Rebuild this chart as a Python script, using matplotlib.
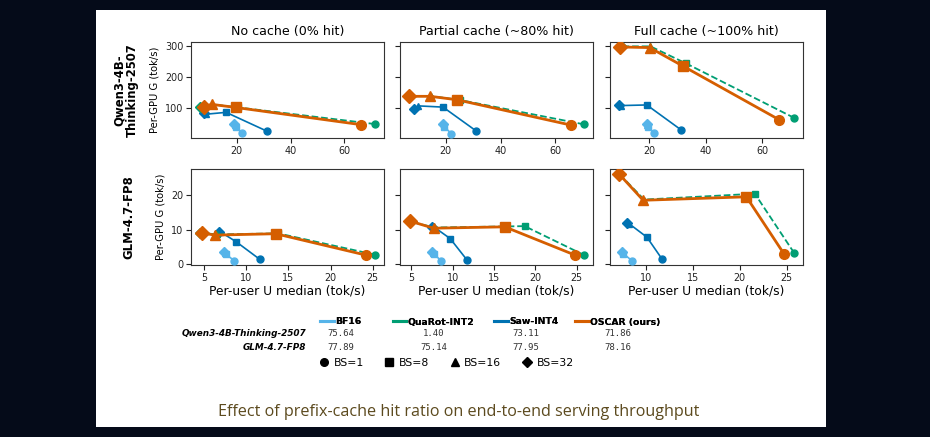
import matplotlib
matplotlib.use("Agg")
import matplotlib.pyplot as plt
from matplotlib.lines import Line2D
from matplotlib.patches import Rectangle

# ---------------- data ----------------
methods = ["BF16", "QuaRot-INT2", "Saw-INT4", "OSCAR (ours)"]
colors = ["#56B4E9", "#009E73", "#0072B2", "#D55E00"]
batch_sizes = ["BS=1", "BS=8", "BS=16", "BS=32"]
markers = ["o", "s", "^", "D"]
cache_titles = ["No cache (0% hit)", "Partial cache (~80% hit)", "Full cache (~100% hit)"]
model_names = ["Qwen3-4B-\nThinking-2507", "GLM-4.7-FP8"]
model_table_names = ["Qwen3-4B-Thinking-2507", "GLM-4.7-FP8"]
acc_qwen = ["75.64", "1.40", "73.11", "71.86"]
acc_glm = ["77.89", "75.14", "77.95", "78.16"]

# per-user U (x) and per-GPU G (y), points ordered BS=1, 8, 16, 32
# Qwen3-4B-Thinking-2507
q_nc_x = {"BF16": [21.8, 19.6, 19.3, 19.1], "QuaRot-INT2": [71.5, 20.5, 10.8, 6.2],
          "Saw-INT4": [31.2, 16.0, 8.5, 7.6], "OSCAR (ours)": [66.3, 19.5, 10.6, 7.6]}
q_nc_y = {"BF16": [19, 40, 45, 47], "QuaRot-INT2": [48, 102, 112, 102],
          "Saw-INT4": [25, 86, 80, 84], "OSCAR (ours)": [46, 102, 112, 104]}
q_pc_x = {"BF16": [22.0, 19.4, 19.2, 19.1], "QuaRot-INT2": [70.5, 25.2, 14.5, 6.5],
          "Saw-INT4": [31.2, 19.0, 10.0, 8.5], "OSCAR (ours)": [65.5, 24.0, 14.3, 6.7]}
q_pc_y = {"BF16": [17, 40, 46, 49], "QuaRot-INT2": [47, 126, 139, 139],
          "Saw-INT4": [25, 103, 107, 97], "OSCAR (ours)": [45, 127, 138, 138]}
q_fc_x = {"BF16": [21.8, 19.6, 19.4, 19.3], "QuaRot-INT2": [71.3, 33.0, 20.5, 10.0],
          "Saw-INT4": [31.2, 19.2, 10.0, 9.3], "OSCAR (ours)": [66.0, 32.0, 20.2, 9.9]}
q_fc_y = {"BF16": [18, 40, 46, 48], "QuaRot-INT2": [68, 245, 300, 300],
          "Saw-INT4": [30, 110, 108, 111], "OSCAR (ours)": [62, 236, 296, 298]}
# GLM-4.7-FP8
g_nc_x = {"BF16": [8.6, 7.6, 7.5, 7.4], "QuaRot-INT2": [25.3, 13.8, 6.5, 4.5],
          "Saw-INT4": [11.6, 8.8, 6.9, 6.8], "OSCAR (ours)": [24.2, 13.5, 6.3, 4.8]}
g_nc_y = {"BF16": [1.0, 2.8, 3.2, 3.4], "QuaRot-INT2": [2.7, 8.9, 8.6, 9.1],
          "Saw-INT4": [1.4, 6.5, 9.4, 9.2], "OSCAR (ours)": [2.6, 8.8, 8.4, 9.0]}
g_pc_x = {"BF16": [8.6, 7.7, 7.6, 7.5], "QuaRot-INT2": [25.9, 18.7, 7.8, 4.7],
          "Saw-INT4": [11.7, 9.7, 7.6, 7.5], "OSCAR (ours)": [24.8, 16.3, 7.7, 4.8]}
g_pc_y = {"BF16": [1.0, 3.0, 3.3, 3.5], "QuaRot-INT2": [2.6, 11.0, 10.6, 12.4],
          "Saw-INT4": [1.3, 7.4, 11.0, 10.8], "OSCAR (ours)": [2.6, 10.8, 10.4, 12.5]}
g_fc_x = {"BF16": [8.5, 7.6, 7.5, 7.4], "QuaRot-INT2": [25.8, 21.6, 9.8, 7.1],
          "Saw-INT4": [11.7, 10.1, 8.2, 8.0], "OSCAR (ours)": [24.7, 20.7, 9.7, 7.1]}
g_fc_y = {"BF16": [1.0, 3.0, 3.3, 3.5], "QuaRot-INT2": [3.2, 20.4, 18.7, 26.3],
          "Saw-INT4": [1.5, 7.8, 11.7, 12.0], "OSCAR (ours)": [3.0, 19.5, 18.5, 26.2]}

panels = [[(q_nc_x, q_nc_y), (q_pc_x, q_pc_y), (q_fc_x, q_fc_y)],
          [(g_nc_x, g_nc_y), (g_pc_x, g_pc_y), (g_fc_x, g_fc_y)]]

# ---------------- figure ----------------
W, H = 930, 437
fig = plt.figure(figsize=(W / 100, H / 100), dpi=100)
fig.patch.set_facecolor("#050B19")
fig.patches.append(Rectangle((96 / W, 1 - 427 / H), 730 / W, 417 / H,
                             transform=fig.transFigure, facecolor="white",
                             edgecolor="none", zorder=-10))

def fx(px):
    return px / W

def fy(py):
    return 1 - py / H

col_left = [191, 400, 610]
col_w = 193
row_top = [42, 169]
row_h = 96

styles = {
    "BF16": dict(lw=1.2, ls="-", ms=5, z=3),
    "QuaRot-INT2": dict(lw=1.3, ls="--", ms=5, z=4),
    "Saw-INT4": dict(lw=1.2, ls="-", ms=5, z=3),
    "OSCAR (ours)": dict(lw=2.0, ls="-", ms=7, z=5),
}

axes = [[None] * 3 for _ in range(2)]
for r in range(2):
    for c in range(3):
        share = axes[r][0] if c > 0 else None
        ax = fig.add_axes([fx(col_left[c]), fy(row_top[r] + row_h), col_w / W, row_h / H],
                          sharey=share)
        axes[r][c] = ax
        xs, ys = panels[r][c]
        for m, col in zip(methods, colors):
            st = styles[m]
            ax.plot(xs[m], ys[m], color=col, lw=st["lw"], ls=st["ls"], zorder=st["z"])
            for xi, yi, mk in zip(xs[m], ys[m], markers):
                ax.plot([xi], [yi], marker=mk, color=col, ms=st["ms"], ls="none",
                        zorder=st["z"])
        ax.tick_params(labelsize=6.9, length=3.5, width=0.8, pad=2, colors="#222222")
        for s in ax.spines.values():
            s.set_linewidth(0.8)
            s.set_color("#333333")
        if c > 0:
            plt.setp(ax.get_yticklabels(), visible=False)
        if r == 0:
            ax.set_title(cache_titles[c], fontsize=9.1, pad=5)
            ax.set_xticks([20, 40, 60])
            ax.set_yticks([100, 200, 300])
        else:
            ax.set_xticks([5, 10, 15, 20, 25] if c < 2 else [10, 15, 20, 25])
            ax.set_yticks([0, 10, 20])
            ax.set_xlabel("Per-user U median (tok/s)", fontsize=8.8, labelpad=1)
        if c == 0:
            ax.set_ylabel("Per-GPU G (tok/s)", fontsize=7.2, labelpad=4)

# row labels
fig.text(fx(126), fy(90), model_names[0], rotation=90, ha="center", va="center",
         fontsize=8.4, fontweight="bold", linespacing=1.0)
fig.text(fx(129), fy(217), model_names[1], rotation=90, ha="center", va="center",
         fontsize=8.4, fontweight="bold")

# method legend (one entry per column, centred)
col_centers = [341, 433.5, 526, 617.5]
for m, col, cx in zip(methods, colors, col_centers):
    h = Line2D([], [], color=col, lw=2.2)
    lg = fig.legend([h], [m], loc="center", bbox_to_anchor=(fx(cx), fy(322)),
                    frameon=False, handlelength=1.5, handletextpad=0.15,
                    borderpad=0, borderaxespad=0, prop=dict(size=6.7, weight="bold"))
    fig.add_artist(lg)

# accuracy table
for ri, (name, accs) in enumerate([(model_table_names[0], acc_qwen),
                                   (model_table_names[1], acc_glm)]):
    yy = fy(334 + ri * 13)
    fig.text(fx(306), yy, name, ha="right", va="center", fontsize=6.4,
             fontweight="bold", fontstyle="italic")
    for cx, a in zip(col_centers, accs):
        fig.text(fx(cx), yy, a, ha="center", va="center", fontsize=6.5,
                 family="DejaVu Sans Mono", color="#333333")

# batch-size marker legend
mh = [Line2D([], [], color="black", marker=mk, ls="none", ms=5.5) for mk in markers]
lg2 = fig.legend(mh, batch_sizes, loc="center", bbox_to_anchor=(fx(446), fy(363)),
                 ncol=4, frameon=False, handlelength=1.0, handletextpad=0.4,
                 columnspacing=1.85, borderpad=0, borderaxespad=0, prop=dict(size=7.8))

# caption
fig.text(fx(459), fy(412), "Effect of prefix-cache hit ratio on end-to-end serving throughput",
         ha="center", va="center", fontsize=11.6, family="Open Sans", color="#5C4A1E")

fig.savefig("out.png", dpi=100, facecolor=fig.get_facecolor())
